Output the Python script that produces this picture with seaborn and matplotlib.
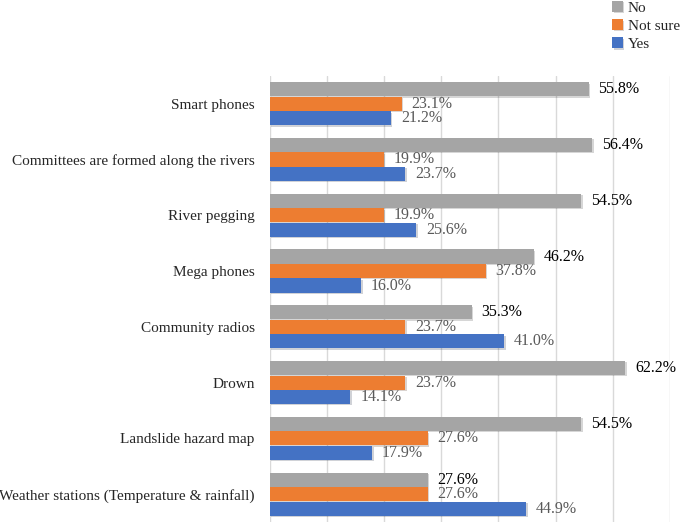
import pandas as pd
import matplotlib.pyplot as plt
import matplotlib.patheffects as pe
import seaborn as sns

# Data (percent)
categories = ["Smart phones", "Committees are formed along the rivers", "River pegging",
              "Mega phones", "Community radios", "Drown", "Landslide hazard map",
              "Weather stations (Temperature & rainfall)"]
no_vals = [55.8, 56.4, 54.5, 46.2, 35.3, 62.2, 54.5, 27.6]
not_sure_vals = [23.1, 19.9, 19.9, 37.8, 23.7, 23.7, 27.6, 27.6]
yes_vals = [21.2, 23.7, 25.6, 16.0, 41.0, 14.1, 17.9, 44.9]
series = ["No", "Not sure", "Yes"]
colors = ["#A5A5A5", "#ED7D31", "#4472C4"]

df = pd.DataFrame({
    "Method": categories * 3,
    "Response": ["No"] * 8 + ["Not sure"] * 8 + ["Yes"] * 8,
    "Percent": no_vals + not_sure_vals + yes_vals,
})

sns.set_style("white")
plt.rcParams["font.family"] = ["Liberation Serif", "DejaVu Serif"]

fig = plt.figure(figsize=(6.85, 5.23), dpi=100)
ax = fig.add_axes([0.394, 0.002, 0.584, 0.853])

sns.barplot(data=df, x="Percent", y="Method", hue="Response", hue_order=series,
            palette=colors, orient="h", width=0.78, gap=0.03, saturation=1,
            edgecolor="none", ax=ax, legend=True)

# soft shadow like the original
for bar in ax.patches:
    bar.set_path_effects([pe.SimplePatchShadow(offset=(1, -1), alpha=0.2), pe.Normal()])

label_colors = ["#000000", "#595959", "#595959"]
for cont, c in zip(ax.containers, label_colors):
    ax.bar_label(cont, labels=[f"{v:.1f}%" for v in cont.datavalues], padding=7,
                 fontsize=11.5, color=c)

ax.set_xlim(0, 70)
ax.set_ylim(7.5, -0.5)
ax.set_xticks(range(0, 71, 10))
ax.xaxis.grid(True, color="#D9D9D9", linewidth=1)
ax.set_axisbelow(True)
ax.tick_params(axis="x", labelbottom=False, length=0)
ax.tick_params(axis="y", length=0, pad=11, labelsize=11)
ax.set_xlabel("")
ax.set_ylabel("")
sns.despine(ax=ax, left=True, bottom=True)

handles, labels = ax.get_legend_handles_labels()
ax.get_legend().remove()
fig.legend(handles, labels, loc="upper left", bbox_to_anchor=(0.885, 1.01), frameon=False,
           fontsize=11, handlelength=0.7, handleheight=0.7, handletextpad=0.3,
           labelspacing=0.3, borderaxespad=0)

fig.savefig("out.png", dpi=100)
